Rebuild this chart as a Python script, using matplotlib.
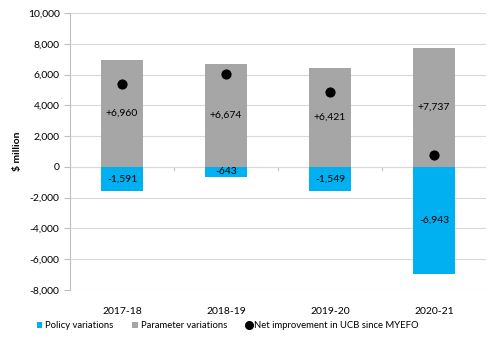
import matplotlib
matplotlib.use("Agg")
import matplotlib.pyplot as plt
from matplotlib.ticker import FuncFormatter
from matplotlib.lines import Line2D
from matplotlib.patches import Patch

categories = ["2017-18", "2018-19", "2019-20", "2020-21"]
policy = [-1591, -643, -1549, -6943]
parameter = [6960, 6674, 6421, 7737]
net = [5369, 6031, 4872, 794]

plt.rcParams['font.family'] = ['Lato', 'DejaVu Sans']

fig = plt.figure(figsize=(5.01, 3.43), dpi=100)
ax = fig.add_axes([70/501, 1-290/343, 416/501, 277/343])

blue = "#00B0F0"
gray = "#A6A6A6"
x = list(range(len(categories)))
ax.bar(x, parameter, width=0.4, color=gray, zorder=2)
ax.bar(x, policy, width=0.4, color=blue, zorder=2)
ax.scatter(x, net, s=40, color="black", zorder=3)

for i in x:
    ax.text(i, parameter[i]/2, f"+{parameter[i]:,}", ha="center", va="center", fontsize=7.5, zorder=4)
    ax.text(i, policy[i]/2, f"{policy[i]:,}", ha="center", va="center", fontsize=7.5, zorder=4)

ax.set_xlim(-0.5, 3.5)
ax.set_ylim(-8000, 10000)
ax.set_yticks(range(-8000, 10001, 2000))
ax.yaxis.set_major_formatter(FuncFormatter(lambda v, p: f"{int(v):,}"))
ax.grid(axis="y", color="#D9D9D9", linewidth=0.8, zorder=0)
ax.axhline(0, color="#D9D9D9", linewidth=0.8, zorder=1)
for s in ["top", "right", "bottom"]:
    ax.spines[s].set_visible(False)
ax.spines["left"].set_color("#BFBFBF")
ax.tick_params(axis="y", labelsize=7.5, color="#BFBFBF", length=4)
ax.tick_params(axis="x", labelsize=7.5, length=0, pad=12)
ax.set_xticks(x)
ax.set_xticklabels(categories)
for b in [0.5, 1.5, 2.5]:
    ax.plot([b, b], [0, -200], color="#BFBFBF", linewidth=0.8, zorder=1)
ax.set_ylabel("$ million", fontsize=7.5, fontweight="bold", labelpad=4)

handles = [
    Patch(facecolor=blue, label="Policy variations"),
    Patch(facecolor=gray, label="Parameter variations"),
    Line2D([], [], marker="o", color="black", linestyle="none", markersize=5.5, label="Net improvement in UCB since MYEFO"),
]
fig.legend(handles=handles, loc="center left", bbox_to_anchor=(28/501, 1-326/343), ncol=3,
           frameon=False, fontsize=6.8, handlelength=0.6, handleheight=0.6, handletextpad=0.3, columnspacing=2.0)

fig.savefig("out.png", dpi=100)
